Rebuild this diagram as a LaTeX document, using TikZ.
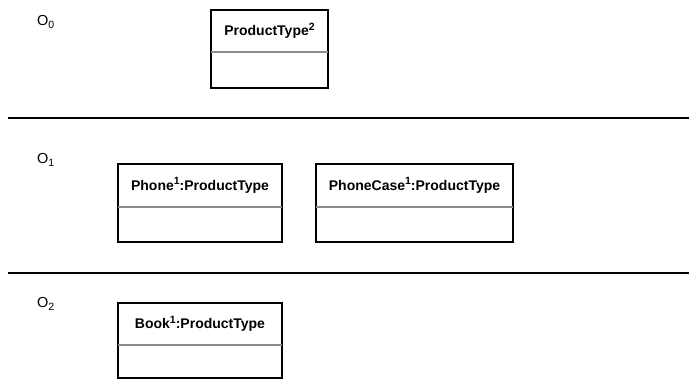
\documentclass[tikz,border=0pt]{standalone}
\usepackage{fontspec}
\setmainfont{Liberation Sans}
\usetikzlibrary{positioning}
\newcommand\lowidx[1]{\raisebox{-0.45ex}{\fontsize{10.5}{12}\selectfont #1}}
\newcommand\highidx[1]{\raisebox{0.75ex}{\fontsize{10.5}{12}\selectfont #1}}

\begin{document}
\begin{tikzpicture}[x=1pt, y=-1pt, every node/.style={font=\fontsize{14.5}{16}\selectfont}, hd/.style={draw, line width=1.4pt, inner sep=0pt, outer sep=0pt, anchor=north west, minimum height=42pt, font=\fontsize{14}{16}\selectfont\bfseries}, bd/.style={draw, line width=1.4pt, inner sep=0pt, outer sep=0pt, below=0pt of #1}, sep/.style={draw=black!45, line width=1.4pt}, rule/.style={line width=1.4pt}, lvl/.style={anchor=base west, inner sep=0pt}]
	\useasboundingbox (0,0) rectangle (689,380);
	% level O0
	\node[lvl] (l0) at (37,25) {O\lowidx{0}};
	\node[hd, minimum width=117pt] (pt) at (211,10) {ProductType\highidx{2}};
	\node[bd=pt, minimum width=117pt, minimum height=36pt] (ptb) {};
	\draw[sep] (pt.south west) -- (pt.south east);
	\coordinate (r1l) at (8,118); \coordinate (r1r) at (689,118);
	\draw[rule] (r1l) -- (r1r);
	% level O1
	\node[lvl] (l1) at (37,163) {O\lowidx{1}};
	\node[hd, minimum width=164pt, minimum height=43pt] (ph) at (118,164) {Phone\highidx{1}:ProductType};
	\node[bd=ph, minimum width=164pt, minimum height=35pt] (phb) {};
	\draw[sep] (ph.south west) -- (ph.south east);
	\node[hd, minimum width=197pt, minimum height=43pt] (pc) at (316,164) {PhoneCase\highidx{1}:ProductType};
	\node[bd=pc, minimum width=197pt, minimum height=35pt] (pcb) {};
	\draw[sep] (pc.south west) -- (pc.south east);
	\coordinate (r2l) at (8,273); \coordinate (r2r) at (689,273);
	\draw[rule] (r2l) -- (r2r);
	% level O2
	\node[lvl] (l2) at (37,307) {O\lowidx{2}};
	\node[hd, minimum width=164pt] (bk) at (118,303) {Book\highidx{1}:ProductType};
	\node[bd=bk, minimum width=164pt, minimum height=33pt] (bkb) {};
	\draw[sep] (bk.south west) -- (bk.south east);
\end{tikzpicture}
\end{document}
